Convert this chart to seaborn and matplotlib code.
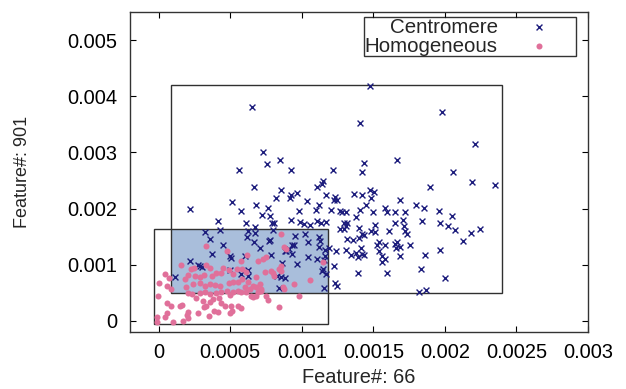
import numpy as np
import pandas as pd
import matplotlib
matplotlib.use("Agg")
import matplotlib.pyplot as plt
from matplotlib.patches import Rectangle
import seaborn as sns

# values below are in units of 1e-3
cen_x = np.array([
    1.478, 0.650, 1.981, 1.406, 2.212, 0.730, 1.662, 0.848, 0.755, 1.436,
    0.559, 0.923, 1.420, 2.054, 1.221, 2.189, 2.352, 0.669, 1.895, 1.149,
    1.138, 1.103, 1.480, 1.508, 1.364, 1.422, 1.485, 0.965, 0.925, 0.921,
    0.821, 0.855, 1.168, 1.235, 1.224, 1.247, 1.037, 0.510, 0.683, 1.117,
    1.098, 0.979, 0.767, 0.573, 0.720, 0.776, 1.266, 1.280, 1.205, 1.312,
    1.410, 1.450, 1.497, 1.580, 1.599, 1.650, 1.685, 1.723, 1.795, 1.853,
    1.956, 2.049, 0.219, 0.417, 0.613, 0.674, 0.790, 0.807, 0.923, 0.991,
    1.019, 1.058, 1.107, 1.135, 1.168, 1.294, 1.319, 1.308, 1.266, 1.294,
    1.382, 1.513, 1.653, 1.704, 1.716, 1.723, 1.734, 1.839, 1.965, 2.023,
    2.070, 2.179, 2.242, 2.128, 0.429, 0.324, 0.622, 0.671, 0.802, 0.956,
    1.026, 1.117, 1.126, 0.618, 0.669, 0.772, 0.779, 0.932, 1.047, 0.359,
    0.452, 0.711, 0.949, 0.909, 0.893, 0.881, 0.932, 1.117, 1.193, 1.163,
    1.238, 1.315, 1.361, 1.401, 1.420, 1.401, 1.436, 1.483, 1.513, 1.541,
    1.611, 1.524, 1.585, 1.648, 1.657, 1.667, 1.685, 1.755, 1.312, 1.343,
    1.378, 1.417, 1.424, 1.394, 1.434, 1.541, 1.559, 1.562, 1.585, 1.685,
    1.862, 1.965, 0.371, 0.497, 0.503, 0.606, 0.783, 0.862, 0.965, 1.047,
    1.107, 1.152, 1.161, 1.226, 0.217, 0.275, 0.289, 0.305, 0.499, 0.627,
    0.578, 0.622, 0.828, 0.858, 0.881, 1.149, 1.142, 1.172, 1.394, 1.597,
    1.830, 1.998, 0.114, 0.841, 1.156, 1.235, 1.245, 1.821, 1.865,
]) * 1e-3
cen_y = np.array([
    4.179, 3.804, 3.714, 3.518, 3.155, 3.012, 2.863, 2.863, 2.786, 2.804,
    2.690, 2.679, 2.643, 2.643, 2.690, 2.464, 2.423, 2.381, 2.375, 2.488,
    2.440, 2.375, 2.333, 2.292, 2.262, 2.244, 2.190, 2.268, 2.232, 2.190,
    2.196, 2.321, 2.232, 2.202, 2.155, 2.143, 2.137, 2.107, 2.065, 2.065,
    1.982, 1.964, 2.006, 1.952, 1.887, 1.863, 1.964, 1.946, 1.982, 1.940,
    1.982, 2.054, 1.929, 2.012, 1.940, 1.940, 2.143, 1.929, 2.065, 2.006,
    1.958, 1.869, 1.994, 1.786, 1.738, 1.673, 1.744, 1.738, 1.798, 1.756,
    1.726, 1.708, 1.780, 1.750, 1.756, 1.750, 1.750, 1.690, 1.643, 1.643,
    1.857, 1.708, 1.738, 1.798, 1.696, 1.607, 1.542, 1.780, 1.750, 1.690,
    1.625, 1.571, 1.637, 1.423, 1.625, 1.583, 1.601, 1.560, 1.619, 1.512,
    1.548, 1.500, 1.429, 1.500, 1.405, 1.423, 1.435, 1.351, 1.411, 1.458,
    1.345, 1.292, 1.357, 1.274, 1.244, 1.238, 1.190, 1.321, 1.292, 1.268,
    1.250, 1.458, 1.435, 1.470, 1.548, 1.649, 1.536, 1.607, 1.589, 1.411,
    1.607, 1.357, 1.351, 1.369, 1.298, 1.405, 1.321, 1.345, 1.262, 1.179,
    1.214, 1.298, 1.185, 1.131, 1.173, 1.250, 1.155, 1.042, 1.101, 1.155,
    1.173, 1.262, 1.190, 1.155, 1.125, 1.161, 1.173, 1.030, 1.018, 1.131,
    1.107, 1.089, 1.161, 0.970, 1.060, 1.000, 0.970, 0.964, 0.911, 0.905,
    0.833, 0.798, 0.792, 0.774, 0.756, 0.923, 0.887, 0.833, 0.851, 0.851,
    0.917, 0.768, 0.780, 0.583, 0.583, 0.673, 0.619, 0.506, 0.548,
]) * 1e-3

hom_x = np.array([
    0.333, 0.480, 0.159, 0.224, 0.247, 0.333, 0.357, 0.044, 0.072, 0.182,
    0.203, 0.252, 0.287, 0.317, 0.371, 0.403, 0.438, 0.490, 0.520, 0.000,
    0.061, 0.084, 0.189, 0.240, 0.287, 0.322, 0.357, 0.392, 0.427, 0.492,
    0.520, 0.555, 0.205, 0.235, 0.287, 0.322, 0.361, 0.403, 0.438, 0.478,
    0.520, 0.555, -0.005, 0.058, 0.089, 0.147, 0.163, 0.263, 0.310, 0.329,
    0.357, 0.380, 0.422, 0.434, 0.462, 0.508, 0.555, 0.058, 0.205, 0.200,
    0.275, 0.315, 0.387, 0.415, 0.497, -0.012, 0.042, 0.100, 0.170, 0.205,
    0.352, -0.012, 0.858, 0.876, 0.893, 0.620, 0.695, 0.730, 0.753, 0.578,
    0.858, 0.841, 0.858, 0.788, 0.800, 0.807, 0.741, 0.683, 0.585, 0.613,
    0.585, 0.625, 0.660, 0.678, 0.711, 0.718, 0.601, 0.636, 0.578, 0.613,
    0.695, 0.713, 0.648, 0.660, 0.683, 0.753, 0.765, 0.869, 0.874, 0.946,
    1.056, 1.149, 0.981, 0.839, 0.578, 0.497, 0.510, 0.450, 0.548,
]) * 1e-3
hom_y = np.array([
    1.339, 1.238, 0.994, 0.923, 0.935, 0.994, 0.935, 0.827, 0.756, 0.744,
    0.815, 0.804, 0.786, 0.815, 0.804, 0.845, 0.845, 0.905, 0.833, 0.667,
    0.625, 0.565, 0.595, 0.655, 0.673, 0.625, 0.655, 0.637, 0.625, 0.673,
    0.685, 0.696, 0.488, 0.470, 0.494, 0.506, 0.476, 0.494, 0.506, 0.524,
    0.506, 0.536, 0.435, 0.310, 0.268, 0.268, 0.286, 0.399, 0.357, 0.268,
    0.327, 0.387, 0.399, 0.310, 0.256, 0.268, 0.256, 0.137, 0.161, 0.101,
    0.137, 0.238, 0.179, 0.161, 0.137, 0.060, 0.060, -0.018, 0.000, 0.042,
    0.077, -0.030, 1.548, 1.310, 1.280, 1.173, 1.071, 1.101, 1.131, 1.071,
    0.982, 0.923, 0.893, 0.893, 0.851, 0.804, 0.863, 0.774, 0.923, 0.863,
    0.744, 0.685, 0.625, 0.607, 0.655, 0.565, 0.595, 0.565, 0.506, 0.506,
    0.506, 0.536, 0.446, 0.417, 0.435, 0.446, 0.375, 0.595, 0.565, 0.655,
    0.732, 1.042, 0.446, 0.238, 0.220, 0.464, 0.167, 0.935, 0.923,
]) * 1e-3

# class boxes (x0, x1, y0, y1)
cen_box = (0.000089, 0.0024, 0.00049, 0.0042)
hom_box = (-0.000033, 0.00118, -0.00006, 0.00164)

xticks = [0, 0.0005, 0.001, 0.0015, 0.002, 0.0025, 0.003]
xtick_labels = ["0", "0.0005", "0.001", "0.0015", "0.002", "0.0025", "0.003"]
yticks = [0, 0.001, 0.002, 0.003, 0.004, 0.005]
ytick_labels = ["0", "0.001", "0.002", "0.003", "0.004", "0.005"]

df = pd.concat([
    pd.DataFrame({"x": cen_x, "y": cen_y, "cls": "Centromere"}),
    pd.DataFrame({"x": hom_x, "y": hom_y, "cls": "Homogeneous"}),
])

sns.set_style("ticks")
plt.rcParams["font.family"] = ["Liberation Sans", "DejaVu Sans"]

fig = plt.figure(figsize=(6.26, 3.89), dpi=100)
ax = fig.add_axes([0.2077, 0.1465, 0.7316, 0.8226])

# overlap of the two boxes
ox0 = max(cen_box[0], hom_box[0]); ox1 = min(cen_box[1], hom_box[1])
oy0 = max(cen_box[2], hom_box[2]); oy1 = min(cen_box[3], hom_box[3])
ax.add_patch(Rectangle((ox0, oy0), ox1 - ox0, oy1 - oy0, facecolor="#a9bedb",
                       edgecolor="none", zorder=1))
for b in (cen_box, hom_box):
    ax.add_patch(Rectangle((b[0], b[2]), b[1] - b[0], b[3] - b[2], fill=False,
                           edgecolor="#303030", linewidth=1.0, zorder=2))

sns.scatterplot(data=df[df.cls == "Centromere"], x="x", y="y", marker="x",
                color="#1c1c7c", s=18, linewidth=1.0, label="Centromere",
                ax=ax, zorder=3)
sns.scatterplot(data=df[df.cls == "Homogeneous"], x="x", y="y", marker="o",
                color="#e0709a", s=19, linewidth=0, label="Homogeneous",
                ax=ax, zorder=3)

ax.set_xlim(-0.0002, 0.003)
ax.set_ylim(-0.0002, 0.0055)
ax.set_xticks(xticks)
ax.set_xticklabels(xtick_labels)
ax.set_yticks(yticks)
ax.set_yticklabels(ytick_labels)
ax.tick_params(direction="in", length=4, width=0.8, top=True, right=True,
               labelsize=14.4, colors="black")
ax.tick_params(axis="x", pad=8)
ax.tick_params(axis="y", pad=9)
for sp in ax.spines.values():
    sp.set_visible(True)
    sp.set_linewidth(1.0)
    sp.set_color("#333333")

ax.set_xlabel("Feature#: 66", fontsize=14.4, labelpad=4)
ax.set_ylabel("Feature#: 901", fontsize=13, labelpad=26)

leg = ax.legend(loc="upper right", bbox_to_anchor=(0.974, 0.984),
                markerfirst=False, frameon=True, fancybox=False, fontsize=14.8,
                labelspacing=0.0, handletextpad=0.2, handlelength=3.6,
                borderpad=0.02, borderaxespad=0, markerscale=1.0)
leg.get_frame().set_edgecolor("black")
leg.get_frame().set_linewidth(1.0)

fig.savefig("out.png", dpi=100)
